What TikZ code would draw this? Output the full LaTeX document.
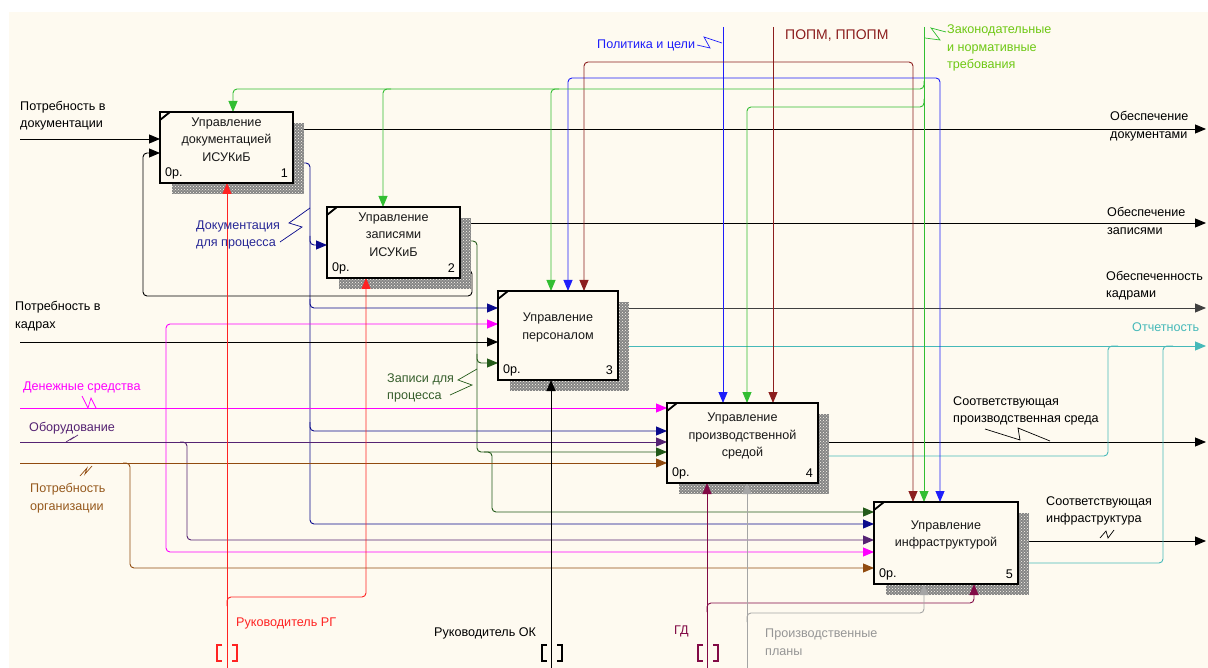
\documentclass[tikz,border=0pt]{standalone}
\usepackage{fontspec}
\setmainfont{Liberation Sans}
\usetikzlibrary{arrows.meta,patterns,calc}
\pgfdeclarelayer{back}
\pgfdeclarelayer{bg}
\pgfsetlayers{back,bg,main}
\definecolor{bgc}{RGB}{254,250,240}
\definecolor{cGreen}{RGB}{50,190,50}
\definecolor{cGreenT}{RGB}{110,200,20}
\definecolor{cBlue}{RGB}{30,30,250}
\definecolor{cMaroon}{RGB}{140,30,30}
\definecolor{cNavy}{RGB}{10,10,140}
\definecolor{cNavyT}{RGB}{40,40,150}
\definecolor{cRed}{RGB}{255,35,35}
\definecolor{cMag}{RGB}{255,0,255}
\definecolor{cPurp}{RGB}{85,35,115}
\definecolor{cBrown}{RGB}{145,75,15}
\definecolor{cBrownT}{RGB}{150,90,30}
\definecolor{cDGreen}{RGB}{35,90,25}
\definecolor{cDGreenT}{RGB}{55,95,45}
\definecolor{cTeal}{RGB}{70,185,185}
\definecolor{cBurg}{RGB}{130,10,70}
\definecolor{cGray}{RGB}{165,165,165}
\definecolor{cGrayT}{RGB}{150,150,150}
\begin{document}
\begin{tikzpicture}[x=1pt,y=-1pt,
  lbl/.style={inner sep=0pt,font=\fontsize{12.6}{17.5}\selectfont,align=left,anchor=west},
  fbox/.style={draw=black,line width=2.4pt,fill=bgc,rectangle,outer sep=0pt,inner sep=0pt},
  ttl/.style={font=\fontsize{12.6}{17.5}\selectfont,align=center,text=black!90,inner sep=0pt},
  conn/.style={line width=0.9pt,rounded corners=4pt},
  arr/.style={-{Triangle[length=11pt,width=9pt]}},
  shd/.style={pattern=crosshatch dots,pattern color=bgc},
  squig/.style={line width=0.7pt}]
\useasboundingbox (0,0) rectangle (1208,668);
% ---------- boxes ----------
\node[fbox,minimum width=133pt,minimum height=71pt] (b1) at (226.5,147.5) {};
\node[fbox,minimum width=133pt,minimum height=71pt] (b2) at (393.5,242.5) {};
\node[fbox,minimum width=120pt,minimum height=89pt] (b3) at (558,335.5) {};
\node[fbox,minimum width=151pt,minimum height=80pt] (b4) at (742.5,443) {};
\node[fbox,minimum width=144pt,minimum height=82pt] (b5) at (946,543) {};
\foreach \b in {b1,b2,b3,b4,b5}{
  \draw[line width=1.8pt] ($(\b.north west)+(0,8)$) -- ($(\b.north west)+(10,0)$);
}
\node[ttl] (b1t) at ([yshift=8pt]b1.center) {Управление\\документацией\\ИСУКиБ};
\node[ttl] (b2t) at ([yshift=8pt]b2.center) {Управление\\записями\\ИСУКиБ};
\node[ttl] (b3t) at ([yshift=8pt]b3.center) {Управление\\персоналом};
\node[ttl] (b4t) at ([yshift=7pt]b4.center) {Управление\\производственной\\средой};
\node[ttl] (b5t) at ([yshift=8pt]b5.center) {Управление\\инфраструктурой};
\node[lbl] (b1a) at ($(b1.south west)+(5,-10)$) {0р.};
\node[lbl] (b2a) at ($(b2.south west)+(5,-10)$) {0р.};
\node[lbl] (b3a) at ($(b3.south west)+(5,-10)$) {0р.};
\node[lbl] (b4a) at ($(b4.south west)+(5,-10)$) {0р.};
\node[lbl] (b5a) at ($(b5.south west)+(5,-10)$) {0р.};
\node[lbl,anchor=east] (b1n) at ($(b1.south east)+(-5,-10)$) {1};
\node[lbl,anchor=east] (b2n) at ($(b2.south east)+(-5,-10)$) {2};
\node[lbl,anchor=east] (b3n) at ($(b3.south east)+(-5,-10)$) {3};
\node[lbl,anchor=east] (b4n) at ($(b4.south east)+(-5,-10)$) {4};
\node[lbl,anchor=east] (b5n) at ($(b5.south east)+(-5,-10)$) {5};
% ---------- free ends ----------
\coordinate (iDoc) at (20,139);
\coordinate (iHR) at (20,342);
\coordinate (iMon) at (20,408);
\coordinate (iEq) at (20,442);
\coordinate (iOrg) at (20,463);
\coordinate (cPol) at (723,27);
\coordinate (cPopm) at (773,27);
\coordinate (cLaw) at (924,27);
\coordinate (mRG) at (227,668);
\coordinate (mOK) at (551,668);
\coordinate (mGD) at (707,668);
\coordinate (mPl) at (747,668);
\coordinate (oDoc) at (1206,129);
\coordinate (oRec) at (1206,223);
\coordinate (oHR) at (1206,308);
\coordinate (oRep) at (1206,346);
\coordinate (oEnv) at (1206,442);
\coordinate (oInf) at (1206,541);
% ---------- back layer: background and outputs ----------
\begin{pgfonlayer}{back}
\fill[white] (0,0) rectangle (1208,668);
\fill[bgc] (9,12) rectangle (1208,668);
\draw[conn,arr] (b1.east |- oDoc) -- (oDoc);
\draw[conn,arr] (b2.east |- oRec) -- (oRec);
\draw[conn,arr,black!75] (b3.east |- oHR) -- (oHR);
\draw[conn,arr,cTeal] (b3.east |- oRep) -- (oRep);
\draw[conn,arr] (b4.east |- oEnv) -- (oEnv);
\draw[conn,arr] (b5.east |- oInf) -- (oInf);
\draw[conn,cTeal] (b4.east |- 0,456) -- (1108,456) -- (1108,346) -- (1118,346);
\draw[conn,cTeal] (b5.east |- 0,563) -- (1163,563) -- (1163,346) -- (1173,346);
% navy: documentation for process
\draw[conn,arr,cNavy] (b1.east |- 0,163) -- (310,163) -- (310,524) -- (b5.west |- 0,524);
\draw[conn,arr,cNavy] (310,236) -- (310,245) -- (b2.west |- 0,245);
\draw[conn,arr,cNavy] (310,299) -- (310,308) -- (b3.west |- 0,308);
\draw[conn,arr,cNavy] (310,422) -- (310,431) -- (b4.west |- 0,431);
% dark green: records for process
\draw[conn,arr,cDGreen] (b2.east |- 0,241) -- (477,241) -- (477,452) -- (b4.west |- 0,452);
\draw[conn,arr,cDGreen] (477,354) -- (477,363) -- (b3.west |- 0,363);
\draw[conn,arr,cDGreen] (484,452) -- (492,452) -- (492,512) -- (b5.west |- 0,512);
% feedback
\draw[conn,arr] (b2.east |- 0,270) -- (472,270) -- (472,296) -- (143,296) -- (143,153) -- (b1.west |- 0,153);
\end{pgfonlayer}
% ---------- bg layer: shadows, controls, inputs, mechanisms ----------
\begin{pgfonlayer}{bg}
\foreach \b in {b1,b2,b3,b4,b5}{
  \fill[black!48] ($(\b.north west)+(12,11)$) rectangle ($(\b.south east)+(11,11)$);
  \fill[shd] ($(\b.north west)+(12,11)$) rectangle ($(\b.south east)+(11,11)$);
}
% controls
\draw[conn,arr,cBlue] (cPol) -- (cPol |- b4.north);
\draw[conn,arr,cBlue] (723,78) -- (568,78) -- (568,0 |- b3.north);
\draw[conn,arr,cBlue] (723,78) -- (940,78) -- (940,0 |- b5.north);
\draw[conn,arr,cMaroon] (cPopm) -- (cPopm |- b4.north);
\draw[conn,arr,cMaroon] (773,62) -- (584,62) -- (584,0 |- b3.north);
\draw[conn,arr,cMaroon] (773,62) -- (913,62) -- (913,0 |- b5.north);
\draw[conn,arr,cGreen] (cLaw) -- (cLaw |- b5.north);
\draw[conn,arr,cGreen] (924,81) -- (924,89) -- (233,89) -- (233,0 |- b1.north);
\draw[conn,arr,cGreen] (391,89) -- (383,89) -- (383,0 |- b2.north);
\draw[conn,arr,cGreen] (559,89) -- (551,89) -- (551,0 |- b3.north);
\draw[conn,arr,cGreen] (924,99) -- (924,107) -- (747,107) -- (747,0 |- b4.north);
% inputs
\draw[conn,arr] (iDoc) -- (b1.west |- iDoc);
\draw[conn,arr] (iHR) -- (b3.west |- iHR);
\draw[conn,arr,cMag] (iMon) -- (b4.west |- iMon);
\draw[conn,arr,cMag] (166,408) -- (166,324) -- (b3.west |- 0,324);
\draw[conn,arr,cMag] (166,408) -- (166,552) -- (b5.west |- 0,552);
\draw[conn,arr,cPurp] (iEq) -- (b4.west |- iEq);
\draw[conn,arr,cPurp] (180,442) -- (187,442) -- (187,540) -- (b5.west |- 0,540);
\draw[conn,arr,cBrown] (iOrg) -- (b4.west |- iOrg);
\draw[conn,arr,cBrown] (123,463) -- (130,463) -- (130,568) -- (b5.west |- 0,568);
% mechanisms
\draw[conn,arr,cRed] (mRG) -- (mRG |- b1.south);
\draw[conn,arr,cRed] (227,606) -- (227,597) -- (366,597) -- (366,0 |- b2.south);
\draw[conn,arr] (mOK) -- (mOK |- b3.south);
\draw[conn,arr,cBurg] (mGD) -- (mGD |- b4.south);
\draw[conn,arr,cBurg] (707,612) -- (707,603) -- (974,603) -- (974,0 |- b5.south);
\draw[conn,arr,cGray] (mPl) -- (mPl |- b4.south);
\draw[conn,arr,cGray] (747,622) -- (747,613) -- (924,613) -- (924,0 |- b5.south);
% tunnel brackets
\foreach \x/\c in {217/cRed,542/black,698/cBurg}{
  \draw[draw=\c,line width=1.3pt] (\x+5,645) -- (\x,645) -- (\x,661) -- (\x+5,661);
  \draw[draw=\c,line width=1.3pt] (\x+15,645) -- (\x+20,645) -- (\x+20,661) -- (\x+15,661);
}
% squiggles
\draw[squig,cBlue] (697,45) -- (710,48) -- (704,37) -- (722,43);
\draw[squig,cGreen] (946,32) -- (931,28) -- (940,40) -- (925,38);
\draw[squig,cNavy] (280,242) -- (302,227) -- (289,223) -- (310,208);
\draw[squig,cDGreen] (450,395) -- (472,385) -- (458,380) -- (477,369);
\draw[squig,cMag] (82,396) -- (88,408) -- (91,398) -- (96,408);
\draw[squig,cPurp] (78,435) -- (70,440) -- (74,437) -- (66,442);
\draw[squig,cBrown] (80,476) -- (87,468) -- (85,474) -- (92,466);
\draw[squig] (985,429) -- (1020,440) -- (1018,428) -- (1050,441);
\draw[squig] (1100,538) -- (1106,531) -- (1108,538) -- (1114,530);
\end{pgfonlayer}
% ---------- labels ----------
\node[lbl] (lDoc) at (20,115.5) {Потребность в\\документации};
\node[lbl,text=cNavyT] (lDfp) at (196,235) {Документация\\для процесса};
\node[lbl] (lHR) at (15,316) {Потребность в\\кадрах};
\node[lbl,text=cMag] (lMon) at (23,387) {Денежные средства};
\node[lbl,text=cPurp] (lEq) at (29,428) {Оборудование};
\node[lbl,text=cBrownT] (lOrg) at (30,498) {Потребность\\организации};
\node[lbl,text=cDGreenT] (lRec) at (387,388) {Записи для\\процесса};
\node[lbl,text=cRed] (lRG) at (236,623) {Руководитель РГ};
\node[lbl] (lOK) at (434,633) {Руководитель ОК};
\node[lbl,text=cBurg] (lGD) at (674,631) {ГД};
\node[lbl,text=cGrayT] (lPl) at (765,642) {Производственные\\планы};
\node[lbl,text=cBlue] (lPol) at (597,45) {Политика и цели};
\node[lbl,text=cMaroon,font=\fontsize{14}{17}\selectfont] (lPopm) at (785,36) {ПОПМ, ППОПМ};
\node[lbl,text=cGreenT] (lLaw) at (947,48) {Законодательные\\и нормативные\\требования};
\node[lbl] (loDoc) at (1110,126) {Обеспечение\\документами};
\node[lbl] (loRec) at (1107,221) {Обеспечение\\записями};
\node[lbl] (loHR) at (1106,285.5) {Обеспеченность\\кадрами};
\node[lbl,text=cTeal] (loRep) at (1132,327) {Отчетность};
\node[lbl] (loEnv) at (953,411) {Соответствующая\\производственная среда};
\node[lbl] (loInf) at (1046,511) {Соответствующая\\инфраструктура};
\end{tikzpicture}
\end{document}
